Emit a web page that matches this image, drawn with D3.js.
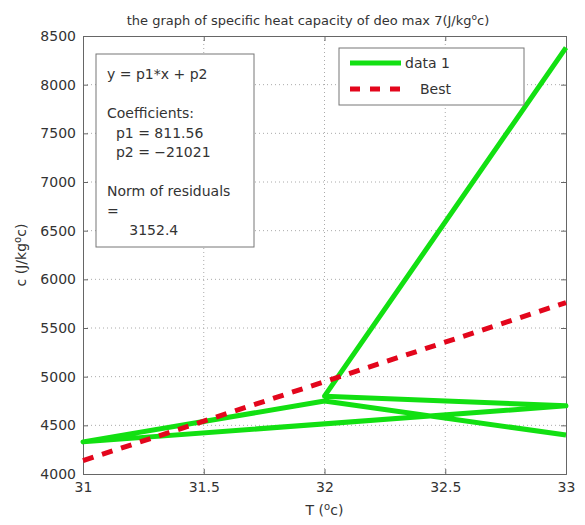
<!DOCTYPE html>
<html>
<head>
<meta charset="utf-8">
<script src="https://cdn.jsdelivr.net/npm/d3@7"></script>
<style>
  body { margin: 0; background: #fff; }
  text { font-family: "DejaVu Sans", "Liberation Sans", Arial, sans-serif; fill: #333; }
</style>
</head>
<body>
<div id="chart"></div>
<script>
// data (measured points, in plotting order)
const tempC = [33, 32, 31, 33, 32, 33];
const heatCap = [4400, 4750, 4330, 4700, 4800, 8380];

// linear fit shown as "Best"
const fitP1 = 811.56;
const fitP2 = -21021;
const fitRange = [31, 33];

const xTicks = [31, 31.5, 32, 32.5, 33];
const yTicks = [4000, 4500, 5000, 5500, 6000, 6500, 7000, 7500, 8000, 8500];

const fitLines = ["y = p1*x + p2", "", "Coefficients:", "  p1 = 811.56", "  p2 = \u221221021", "", "Norm of residuals", "=", "     3152.4"];

// canvas
const W = 585, H = 525;
const margins = { top: 36, right: 19, bottom: 51, left: 83 };
const width = W - margins.left - margins.right;
const height = H - margins.top - margins.bottom;

const svg = d3.select("#chart").append("svg")
    .attr("width", W)
    .attr("height", H);

const g = svg.append("g")
    .attr("transform", "translate(" + margins.left + "," + margins.top + ")");

const xScale = d3.scaleLinear().domain([31, 33]).range([0, width]);
const yScale = d3.scaleLinear().domain([4000, 8500]).range([height, 0]);

// grid
g.append("g").selectAll("line")
    .data(xTicks.slice(1, -1))
    .enter().append("line")
    .attr("x1", d => xScale(d)).attr("x2", d => xScale(d))
    .attr("y1", 0).attr("y2", height)
    .attr("stroke", "#aaa").attr("stroke-width", 1)
    .attr("stroke-dasharray", "1,3");

g.append("g").selectAll("line")
    .data(yTicks.slice(1, -1))
    .enter().append("line")
    .attr("x1", 0).attr("x2", width)
    .attr("y1", d => yScale(d)).attr("y2", d => yScale(d))
    .attr("stroke", "#aaa").attr("stroke-width", 1)
    .attr("stroke-dasharray", "1,3");

// axes (ticks point inwards like matlab)
const xAxis = g.append("g")
    .attr("transform", "translate(0," + height + ")")
    .call(d3.axisBottom(xScale).tickValues(xTicks).tickSize(-5).tickPadding(8).tickFormat(d3.format("")));
const yAxis = g.append("g")
    .call(d3.axisLeft(yScale).tickValues(yTicks).tickSize(-5).tickPadding(7).tickFormat(d3.format("")));
const xTop = g.append("g")
    .call(d3.axisTop(xScale).tickValues(xTicks).tickSize(-5).tickFormat(""));
const yRight = g.append("g")
    .attr("transform", "translate(" + width + ",0)")
    .call(d3.axisRight(yScale).tickValues(yTicks).tickSize(-5).tickFormat(""));

[xAxis, yAxis, xTop, yRight].forEach(a => {
    a.selectAll("path").attr("stroke", "#666");
    a.selectAll("line").attr("stroke", "#666");
    a.selectAll("text").attr("fill", "#333").style("font-size", "14px");
});

// data line
const line = d3.line()
    .x((d, i) => xScale(tempC[i]))
    .y(d => yScale(d));

g.append("path")
    .datum(heatCap)
    .attr("fill", "none")
    .attr("stroke", "#12e012")
    .attr("stroke-width", 5)
    .attr("stroke-linejoin", "round")
    .attr("d", line);

// best fit line
g.append("line")
    .attr("x1", xScale(fitRange[0]))
    .attr("y1", yScale(fitP1 * fitRange[0] + fitP2))
    .attr("x2", xScale(fitRange[1]))
    .attr("y2", yScale(fitP1 * fitRange[1] + fitP2))
    .attr("stroke", "#e3061c")
    .attr("stroke-width", 5)
    .attr("stroke-dasharray", "11,9");

// title and axis labels
const title = svg.append("text")
    .attr("x", 308)
    .attr("y", 25)
    .style("text-anchor", "middle")
    .style("font-size", "13px");
title.append("tspan").text("the graph of specific heat capacity of deo max 7(J/kg");
title.append("tspan").attr("dy", -5).style("font-size", "9px").text("o");
title.append("tspan").attr("dy", 5).text("c)");

const xLabel = svg.append("text")
    .attr("x", margins.left + width / 2)
    .attr("y", 515)
    .style("text-anchor", "middle")
    .style("font-size", "14px");
xLabel.append("tspan").text("T (");
xLabel.append("tspan").attr("dy", -5).style("font-size", "10px").text("o");
xLabel.append("tspan").attr("dy", 5).text("c)");

const yLabel = svg.append("text")
    .attr("transform", "translate(26," + (margins.top + height / 2) + ") rotate(-90)")
    .style("text-anchor", "middle")
    .style("font-size", "14px");
yLabel.append("tspan").text("c (J/kg");
yLabel.append("tspan").attr("dy", -5).style("font-size", "10px").text("o");
yLabel.append("tspan").attr("dy", 5).text("c)");

// fit results box
svg.append("rect")
    .attr("x", 96).attr("y", 54)
    .attr("width", 158).attr("height", 193)
    .attr("fill", "#fff").attr("stroke", "#777");

svg.append("g").selectAll("text")
    .data(fitLines)
    .enter().append("text")
    .attr("x", 107)
    .attr("y", (d, i) => 79 + i * 19.5)
    .style("font-size", "14px")
    .style("white-space", "pre")
    .attr("xml:space", "preserve")
    .text(d => d);

// legend
svg.append("rect")
    .attr("x", 339).attr("y", 48)
    .attr("width", 185).attr("height", 57)
    .attr("fill", "#fff").attr("stroke", "#777");

svg.append("line")
    .attr("x1", 350).attr("x2", 401).attr("y1", 63).attr("y2", 63)
    .attr("stroke", "#12e012").attr("stroke-width", 5);
svg.append("text")
    .attr("x", 405).attr("y", 68)
    .style("font-size", "14px")
    .text("data 1");

svg.append("line")
    .attr("x1", 350).attr("x2", 401).attr("y1", 89).attr("y2", 89)
    .attr("stroke", "#e3061c").attr("stroke-width", 5)
    .attr("stroke-dasharray", "10,10");
svg.append("text")
    .attr("x", 420).attr("y", 94)
    .style("font-size", "14px")
    .text("Best");
</script>
</body>
</html>
